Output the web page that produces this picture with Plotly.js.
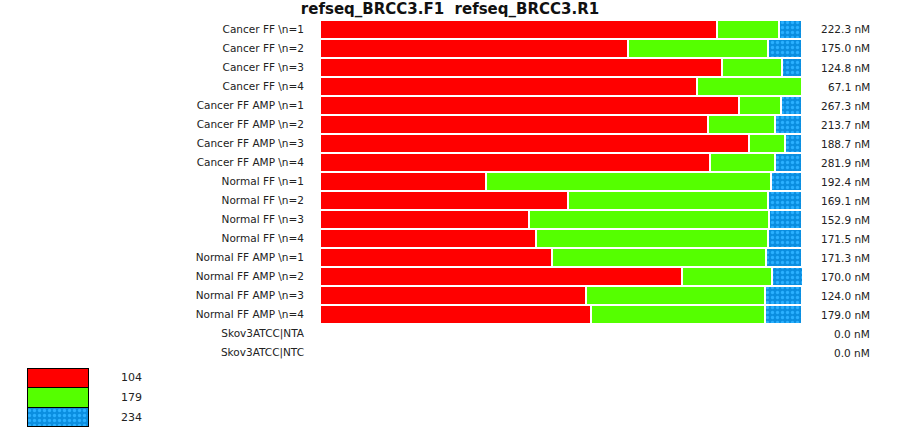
<!DOCTYPE html>
<html>
<head>
<meta charset="utf-8">
<script src="https://cdn.plot.ly/plotly-3.0.1.min.js"></script>
<style>html,body{margin:0;padding:0;background:#fff;}#chart{width:900px;height:432px;}</style>
</head>
<body>
<div id="chart"></div>
<script>
// ---- data ----
const categories = [
  "Cancer FF \\n=1", "Cancer FF \\n=2", "Cancer FF \\n=3", "Cancer FF \\n=4",
  "Cancer FF AMP \\n=1", "Cancer FF AMP \\n=2", "Cancer FF AMP \\n=3", "Cancer FF AMP \\n=4",
  "Normal FF \\n=1", "Normal FF \\n=2", "Normal FF \\n=3", "Normal FF \\n=4",
  "Normal FF AMP \\n=1", "Normal FF AMP \\n=2", "Normal FF AMP \\n=3", "Normal FF AMP \\n=4",
  "Skov3ATCC|NTA", "Skov3ATCC|NTC"
];
const seriesNames = ["104", "179", "234"];
const s104 = [82.3, 63.9, 83.5, 78.3, 86.9, 80.4, 89.0, 81.0, 34.4, 51.5, 43.3, 44.8, 48.1, 75.2, 55.2, 56.3, 0, 0];
const s179 = [12.9, 29.1, 12.3, 21.7, 8.7, 14.0, 7.5, 13.5, 59.2, 41.5, 49.8, 48.1, 44.4, 18.5, 37.1, 36.0, 0, 0];
const s234 = [4.8, 7.1, 4.2, 0.0, 4.4, 5.6, 3.5, 5.4, 6.5, 7.1, 6.9, 7.1, 7.5, 6.5, 7.7, 7.7, 0, 0];
const concLabels = ["222.3 nM", "175.0 nM", "124.8 nM", "67.1 nM", "267.3 nM", "213.7 nM", "188.7 nM", "281.9 nM",
  "192.4 nM", "169.1 nM", "152.9 nM", "171.5 nM", "171.3 nM", "170.0 nM", "124.0 nM", "179.0 nM", "0.0 nM", "0.0 nM"];
const titleText = "refseq_BRCC3.F1&nbsp;&nbsp;refseq_BRCC3.R1";

// ---- styles ----
const FONT = "DejaVu Sans, Verdana, sans-serif";
const RED = "#ff0000", GREEN = "#55ff00";
const bluePattern = {shape: ".", fgcolor: "#2ab0ff", bgcolor: "#0a8ee0", size: 5, solidity: 0.35};
const seriesValues = [s104, s179, s234];
const markers = [
  {color: RED},
  {color: GREEN},
  {color: "#0a8ee0", pattern: bluePattern}
];

const traces = [];
seriesValues.forEach((vals, i) => {
  traces.push({
    type: "bar", orientation: "h", name: seriesNames[i],
    y: categories, x: vals, xaxis: "x", yaxis: "y",
    marker: Object.assign({}, markers[i], {line: {color: "#ffffff", width: 2}}),
    hoverinfo: "skip", showlegend: false
  });
});
// legend swatches: a small stacked chart (bottom = last series)
[2, 1, 0].forEach(i => {
  traces.push({
    type: "bar", orientation: "v", name: seriesNames[i],
    x: [0], y: [1], width: [1], xaxis: "x2", yaxis: "y2",
    marker: Object.assign({}, markers[i], {line: {color: "#000000", width: 1.2}}),
    hoverinfo: "skip", showlegend: false
  });
});

const annotations = categories.map((c, i) => ({
  xref: "paper", yref: "y", x: 872 / 900, y: c, xanchor: "right", yanchor: "middle",
  text: concLabels[i], showarrow: false, font: {family: FONT, size: 10.5, color: "#222"}
}));
[2, 1, 0].forEach((i, k) => {
  annotations.push({
    xref: "paper", yref: "y2", x: 119 / 900, y: k + 0.5, xanchor: "left", yanchor: "middle",
    text: seriesNames[i], showarrow: false, font: {family: FONT, size: 11, color: "#222"}
  });
});

const layout = {
  width: 900, height: 432,
  margin: {l: 0, r: 0, t: 0, b: 0},
  paper_bgcolor: "#ffffff", plot_bgcolor: "#ffffff",
  barmode: "stack", bargap: 0,
  showlegend: false,
  title: {
    text: titleText, x: 0.5, xanchor: "center", xref: "paper",
    y: 1 - 9 / 432, yref: "container", yanchor: "middle",
    font: {family: FONT, size: 15, color: "#111", weight: "bold"}
  },
  xaxis: {
    domain: [320 / 900, 802 / 900], range: [0, 100],
    showgrid: false, zeroline: false, showline: false, showticklabels: false, ticks: ""
  },
  yaxis: {
    domain: [1 - 362 / 432, 1 - 20 / 432], autorange: "reversed",
    type: "category", showgrid: false, zeroline: false, showline: false,
    ticks: "", ticklabelstandoff: 15,
    tickfont: {family: FONT, size: 10.5, color: "#222"}
  },
  xaxis2: {
    domain: [27 / 900, 89 / 900], range: [-0.5, 0.5], anchor: "y2",
    showgrid: false, zeroline: false, showline: false, showticklabels: false, ticks: ""
  },
  yaxis2: {
    domain: [1 - 427 / 432, 1 - 368 / 432], range: [0, 3], anchor: "x2",
    showgrid: false, zeroline: false, showline: false, showticklabels: false, ticks: ""
  },
  annotations: annotations
};

Plotly.newPlot("chart", traces, layout, {staticPlot: true, displayModeBar: false});
</script>
</body>
</html>
